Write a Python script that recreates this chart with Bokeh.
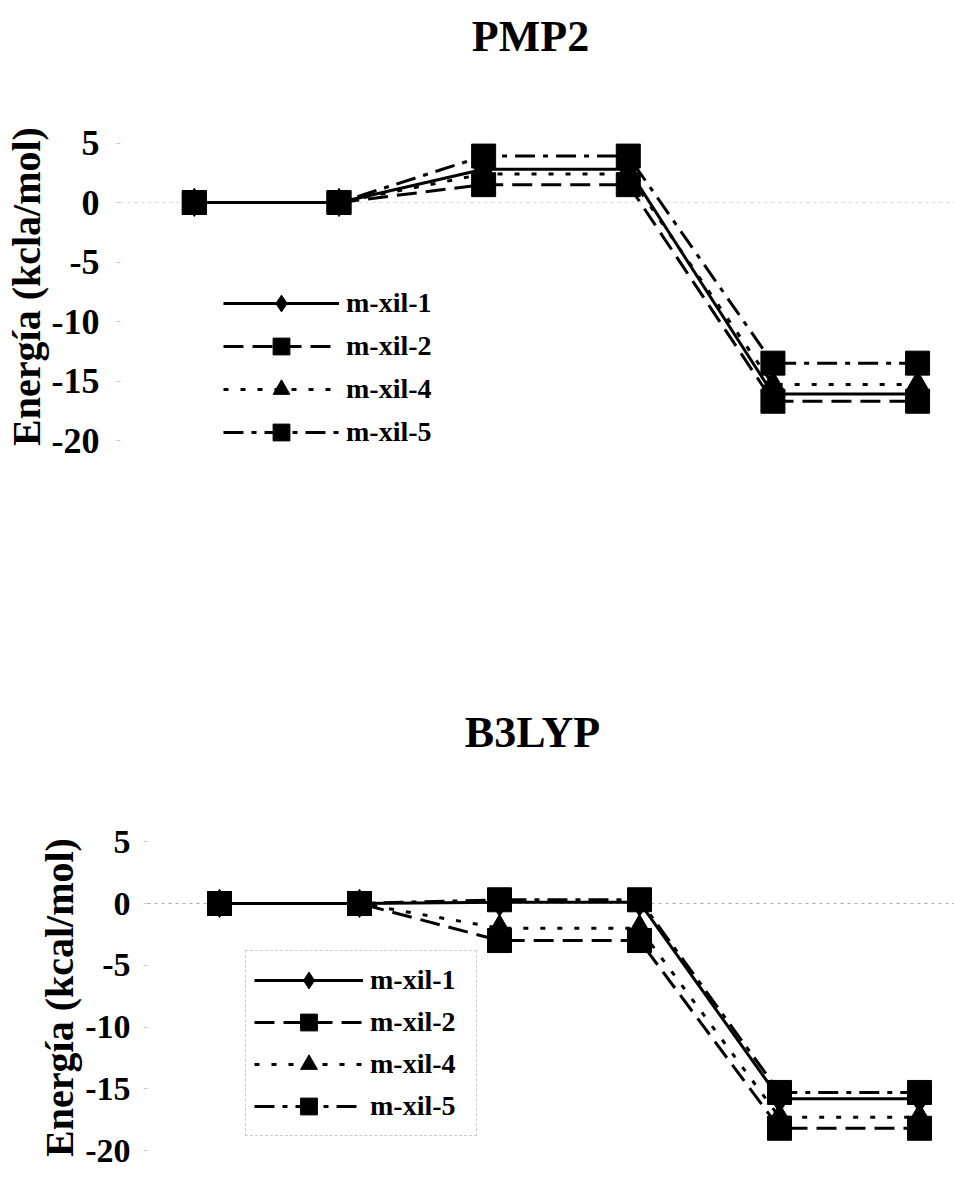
from bokeh.plotting import figure
from bokeh.models import Range1d, FixedTicker, Span, Label, Legend, LegendItem
from bokeh.embed import file_html
from bokeh.resources import INLINE

# ---------------- data ----------------
stages = [1, 2, 3, 4, 5, 6]
series_names = ["m-xil-1", "m-xil-2", "m-xil-4", "m-xil-5"]

pmp2_mxil1 = [0.0, 0.0, 2.8, 2.8, -16.1, -16.1]
pmp2_mxil2 = [0.0, 0.0, 1.5, 1.5, -16.7, -16.7]
pmp2_mxil4 = [0.0, 0.0, 2.4, 2.4, -15.3, -15.3]
pmp2_mxil5 = [0.0, 0.0, 3.9, 3.9, -13.5, -13.5]

b3lyp_mxil1 = [0.0, 0.0, 0.1, 0.1, -15.8, -15.8]
b3lyp_mxil2 = [0.0, 0.0, -3.0, -3.0, -18.2, -18.2]
b3lyp_mxil4 = [0.0, 0.0, -2.0, -2.0, -17.3, -17.3]
b3lyp_mxil5 = [0.0, 0.0, 0.3, 0.3, -15.3, -15.3]

y_ticks = [5, 0, -5, -10, -15, -20]
y_tick_labels = ["5", "0", "-5", "-10", "-15", "-20"]

titles = ["PMP2", "B3LYP"]
y_labels = ["Energía (kcla/mol)", "Energía (kcal/mol)"]

# ---------------- styles ----------------
STYLE = {
    "m-xil-1": dict(dash="solid", marker="diamond", size=28),
    "m-xil-2": dict(dash="20 9", marker="square", size=24),
    "m-xil-4": dict(dash="5 12", marker="triangle", size=24),
    "m-xil-5": dict(dash="20 8 5 8", marker="square", size=24),
}
FONT = "Liberation Serif"
W = 954


def title_label(text, sx, sy):
    return Label(x=sx, y=sy, x_units="screen", y_units="screen",
                 text=text, text_font=FONT, text_font_style="bold", text_font_size="44px",
                 text_align="center", text_baseline="alphabetic", text_color="black")


def make_panel(ylabel, series, g):
    # layout geometry in page pixels
    frame_left = g["left"]
    frame_top = g["fig_top"] + g["top"]
    frame_bottom = g["fig_top"] + g["height"] - g["bottom"]
    frame_w = W - g["left"]
    x0 = 1 - (g["x_first"] - frame_left) / g["x_step"]
    x1 = x0 + frame_w / g["x_step"]
    y_end = (g["zero"] - frame_top) / g["ppu"]
    y_start = -(frame_bottom - g["zero"]) / g["ppu"]

    p = figure(width=W, height=g["height"], output_backend="svg", toolbar_location=None,
               x_range=Range1d(x0, x1), y_range=Range1d(y_start, y_end),
               min_border_left=g["left"], min_border_right=0,
               min_border_top=g["top"], min_border_bottom=g["bottom"])
    p.xaxis.visible = False
    p.grid.visible = False
    p.outline_line_color = None
    p.background_fill_color = "white"
    p.border_fill_color = "white"

    ax = p.yaxis[0]
    ax.ticker = FixedTicker(ticks=y_ticks)
    ax.major_label_overrides = dict(zip(y_ticks, y_tick_labels))
    ax.axis_line_color = None
    ax.major_tick_line_color = "#c8c8c8"
    ax.major_tick_out = 4
    ax.major_tick_in = 0
    ax.minor_tick_line_color = None
    ax.major_label_standoff = g["std"]
    ax.major_label_text_font = FONT
    ax.major_label_text_font_style = "bold"
    ax.major_label_text_font_size = g["tick_fs"]
    ax.major_label_text_color = "black"
    ax.axis_label = ylabel
    ax.axis_label_standoff = g["als"]
    ax.axis_label_text_font = FONT
    ax.axis_label_text_font_style = "bold"
    ax.axis_label_text_font_size = "40px"
    ax.axis_label_text_color = "black"

    p.add_layout(Span(location=0, dimension="width", line_color=g["zero_col"],
                      line_dash="3 4", line_width=1, level="underlay"))

    items = []
    for name, vals in zip(series_names, series):
        st = STYLE[name]
        rl = p.line(stages, vals, line_color="black", line_width=3, line_dash=st["dash"])
        rm = p.scatter(stages, vals, marker=st["marker"], size=st["size"],
                       fill_color="black", line_color="black")
        items.append(LegendItem(label=name, renderers=[rl, rm]))

    lx, ly = g["leg_bl"]
    leg = Legend(items=items, location=(lx - frame_left, frame_bottom - ly), orientation="vertical",
                 glyph_width=g["leg_gw"], glyph_height=42, label_height=42, label_width=g["leg_lw"],
                 spacing=g["leg_sp"], padding=8, label_standoff=7, margin=0,
                 label_text_font=FONT, label_text_font_style="bold",
                 label_text_font_size="28px", label_text_color="black",
                 background_fill_alpha=0,
                 border_line_color=g["leg_border"], border_line_dash="2 3",
                 border_line_width=1)
    p.add_layout(leg)

    if g.get("title") is not None:
        tx, ty = g["title_page"]
        p.add_layout(title_label(g["title"], tx - frame_left, frame_bottom - ty))
    return p


# top chart: page rows 0..580
geom_top = dict(fig_top=0, height=580, top=0, bottom=8, left=118, x_first=192, x_step=145,
                zero=202, ppu=11.9, std=17, als=0, tick_fs="36px", zero_col="#dadada",
                leg_bl=(221, 453), leg_sp=1, leg_gw=116, leg_lw=100, leg_border=None,
                title=titles[0], title_page=(528, 36))
# bottom chart: page rows 800..1177
geom_bot = dict(fig_top=800, height=377, top=38, bottom=21, left=147, x_first=219, x_step=140,
                zero=903, ppu=12.35, std=13, als=0, tick_fs="34px", zero_col="#aaaaaa",
                leg_bl=(245, 1136), leg_sp=0, leg_gw=109, leg_lw=98, leg_border="#999999",
                title=None)

p1 = make_panel(y_labels[0], [pmp2_mxil1, pmp2_mxil2, pmp2_mxil4, pmp2_mxil5], geom_top)

# title strip for the second chart: page rows 580..800
TSTRIP_TOP, TSTRIP_H = 580, 220
pt = figure(width=W, height=TSTRIP_H, output_backend="svg", toolbar_location=None,
            x_range=Range1d(0, 1), y_range=Range1d(0, 1),
            x_axis_location=None, y_axis_location=None,
            min_border_left=0, min_border_right=0, min_border_top=0, min_border_bottom=0)
pt.grid.visible = False
pt.outline_line_color = None
pt.add_layout(title_label(titles[1], 532, TSTRIP_TOP + TSTRIP_H - 732))

p2 = make_panel(y_labels[1], [b3lyp_mxil1, b3lyp_mxil2, b3lyp_mxil4, b3lyp_mxil5], geom_bot)

open("out.html", "w").write(file_html([p1, pt, p2], INLINE))
